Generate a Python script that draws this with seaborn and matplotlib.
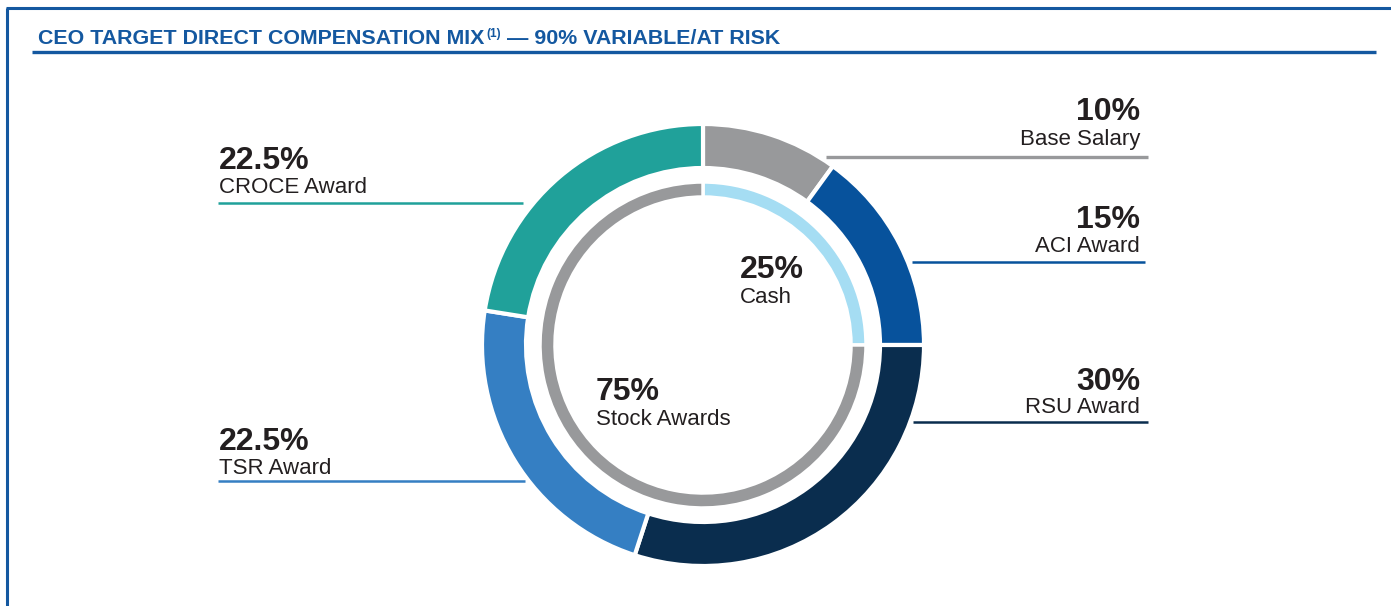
import matplotlib
matplotlib.use("Agg")
import matplotlib.pyplot as plt
import seaborn as sns

# ---- data ----
outer_labels = ["Base Salary", "ACI Award", "RSU Award", "TSR Award", "CROCE Award"]
outer_values = [10, 15, 30, 22.5, 22.5]
outer_pct_text = ["10%", "15%", "30%", "22.5%", "22.5%"]
inner_labels = ["Cash", "Stock Awards"]
inner_values = [25, 75]
inner_pct_text = ["25%", "75%"]
title_main = "CEO TARGET DIRECT COMPENSATION MIX"
title_sup = "(1)"
title_rest = " \u2014 90% VARIABLE/AT RISK"

sns.set_theme(style="white")
plt.rcParams["font.family"] = ["Liberation Sans", "DejaVu Sans"]

outer_colors = sns.color_palette(["#98999b", "#07529c", "#0a2d4e", "#357fc3", "#20a19a"])
inner_colors = sns.color_palette(["#a5ddf3", "#98999b"])
BLUE = "#1458a0"
TXT = "#231f20"

W, H = 1391, 606
fig = plt.figure(figsize=(W / 100, H / 100), dpi=100)
ax = fig.add_axes([0, 0, 1, 1])

def Y(y):
    return H - y

cx, cy = 703, Y(345)
ax.pie(outer_values, colors=outer_colors, startangle=90, counterclock=False,
       center=(cx, cy), radius=221,
       wedgeprops=dict(width=44, edgecolor="white", linewidth=3))
ax.pie(inner_values, colors=inner_colors, startangle=90, counterclock=False,
       center=(cx, cy), radius=163,
       wedgeprops=dict(width=15, edgecolor="white", linewidth=2.5))

ax.set_xlim(0, W)
ax.set_ylim(0, H)
ax.set_aspect("equal")
ax.axis("off")

# frame and title rule
ax.plot([6, W], [Y(8), Y(8)], color=BLUE, lw=2.2, solid_capstyle="butt")
ax.plot([7, 7], [Y(8), 0], color=BLUE, lw=2.2, solid_capstyle="butt")
ax.plot([32, 1376], [Y(52), Y(52)], color=BLUE, lw=2.4, solid_capstyle="butt")

# title with superscript
fig.canvas.draw()
r = fig.canvas.get_renderer()
TFS = 15.4
t1 = ax.text(38, Y(44), title_main, fontsize=TFS, fontweight="bold", color=BLUE,
             va="baseline", ha="left")
x = t1.get_window_extent(r).x1
t2 = ax.text(x + 2, Y(37), title_sup, fontsize=8.5, fontweight="bold", color=BLUE,
             va="baseline", ha="left")
x = t2.get_window_extent(r).x1
ax.text(x, Y(44), title_rest, fontsize=TFS, fontweight="bold", color=BLUE,
        va="baseline", ha="left")

# outer labels: (pct baseline, label baseline, x, ha, line y, line x0, line x1, lw)
outer_layout = [
    (120, 145, 1140, "right", 157, 826, 1148, 2.4),
    (228, 252, 1140, "right", 262, 912, 1145, 1.8),
    (390, 413, 1140, "right", 422, 913, 1148, 1.8),
    (450, 474, 219, "left", 481, 218, 525, 1.8),
    (169, 193, 219, "left", 203, 218, 523, 1.8),
]
for i, (pb, lb, tx, ha, ly, lx0, lx1, lw) in enumerate(outer_layout):
    ax.text(tx, Y(pb), outer_pct_text[i], fontsize=23, fontweight="bold",
            color=TXT, ha=ha, va="baseline")
    ax.text(tx, Y(lb), outer_labels[i], fontsize=16, color=TXT, ha=ha, va="baseline")
    ax.plot([lx0, lx1], [Y(ly), Y(ly)], color=outer_colors[i], lw=lw,
            solid_capstyle="butt")

inner_layout = [(278, 303, 740), (400, 425, 596)]
for i, (pb, lb, tx) in enumerate(inner_layout):
    ax.text(tx, Y(pb), inner_pct_text[i], fontsize=23, fontweight="bold",
            color=TXT, ha="left", va="baseline")
    ax.text(tx, Y(lb), inner_labels[i], fontsize=16, color=TXT, ha="left", va="baseline")

fig.savefig("out.png", dpi=100, facecolor="white")
